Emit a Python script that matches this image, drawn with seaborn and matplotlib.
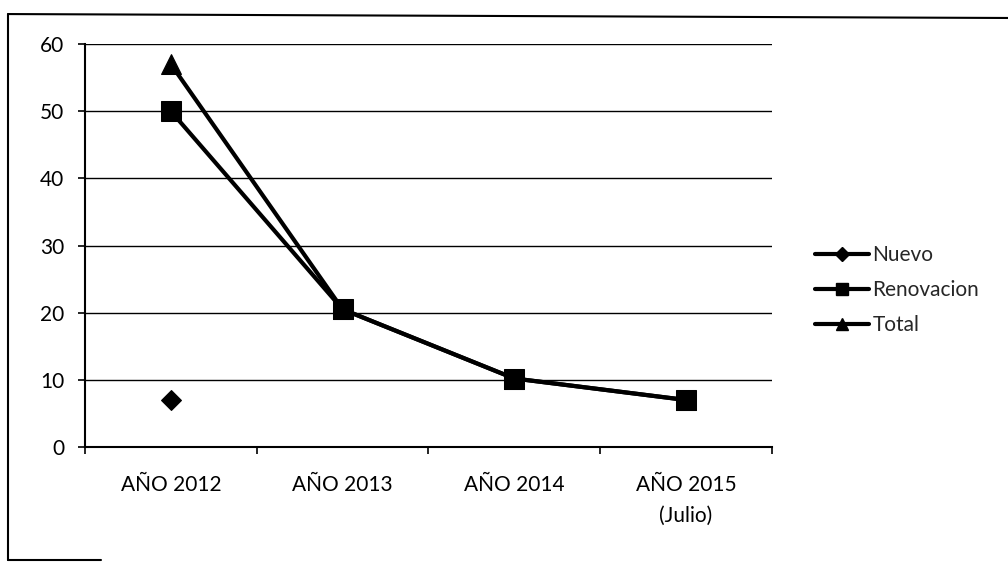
#!/usr/bin/env python3

import pandas as pd
import numpy as np
import matplotlib.pyplot as plt
import seaborn as sns
from matplotlib.lines import Line2D

# data
categories = ['AÑO 2012', 'AÑO 2013', 'AÑO 2014', 'AÑO 2015\n(Julio)']
nuevo = [7, np.nan, np.nan, np.nan]
renovacion = [50, 20.5, 10.2, 7]
total = [57, 20.5, 10.2, 7]
series_names = ['Nuevo', 'Renovacion', 'Total']
y_ticks = [0, 10, 20, 30, 40, 50, 60]

# long format for seaborn
data = pd.DataFrame({
    'x': list(range(len(categories))) * 3,
    'value': nuevo + renovacion + total,
    'serie': [s for s in series_names for _ in categories],
})

sns.set_style('white')
plt.rcParams['font.family'] = ['Lato', 'DejaVu Sans']

fig = plt.figure(figsize=(10.08, 5.62), dpi=100)
ax = fig.add_axes([0.0843, 0.2046, 0.6815, 0.7171])

markers = {'Nuevo': 'D', 'Renovacion': 's', 'Total': '^'}
sizes = {'Nuevo': 10, 'Renovacion': 14, 'Total': 14}

# draw Total first so Renovacion squares sit on top
for serie in ['Total', 'Renovacion', 'Nuevo']:
    subset = data[data['serie'] == serie].dropna()
    sns.lineplot(data=subset, x='x', y='value', ax=ax, color='black',
                 marker=markers[serie], markersize=sizes[serie],
                 markeredgecolor='black', linewidth=3, legend=False)

ax.set_xlim(-0.5, len(categories) - 0.5)
ax.set_ylim(0, 60)
ax.set_yticks(y_ticks)
ax.set_xticks(range(len(categories)))
ax.set_xticklabels(categories)
ax.set_xticks(np.arange(-0.5, len(categories), 1), minor=True)
ax.set_xlabel('')
ax.set_ylabel('')

# excel style grid and axes
ax.grid(axis='y', color='black', linewidth=1)
ax.grid(axis='x', visible=False)
for side in ['top', 'right']:
    ax.spines[side].set_visible(False)
for side in ['left', 'bottom']:
    ax.spines[side].set_color('black')
    ax.spines[side].set_linewidth(1.5)
ax.tick_params(axis='y', which='major', left=True, length=5, width=1.2,
               color='black', pad=10, labelsize=15, labelcolor='black')
ax.tick_params(axis='x', which='major', bottom=False, length=0, pad=20,
               labelsize=15, labelcolor='black')
ax.tick_params(axis='x', which='minor', bottom=True, length=5, width=1.2,
               color='black')
for label in ax.get_xticklabels():
    label.set_linespacing(1.7)

# legend on the right
handles = [Line2D([0], [0], color='black', linewidth=3, marker=markers[s],
                  markersize=9 if s != 'Nuevo' else 7) for s in series_names]
fig.legend(handles, series_names, loc='center left',
           bbox_to_anchor=(0.79, 0.484), frameon=False, fontsize=15,
           handlelength=2.6, handletextpad=0.15, labelspacing=0.72)

# chart border
fig.add_artist(Line2D([0.008, 0.008], [0.003, 0.975], color='black', linewidth=1.5))
fig.add_artist(Line2D([0.008, 1.0], [0.975, 0.968], color='black', linewidth=1.5))
fig.add_artist(Line2D([0.008, 0.1], [0.003, 0.003], color='black', linewidth=1.5))

plt.savefig('out.png', dpi=100)
